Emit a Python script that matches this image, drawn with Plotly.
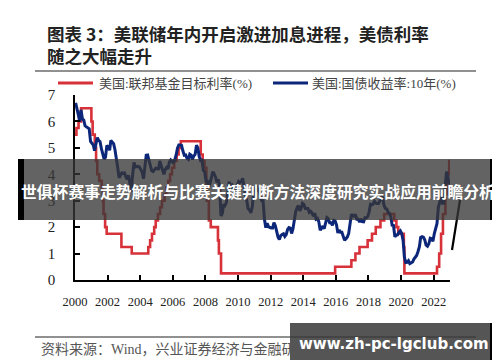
import datetime as dt
import plotly.graph_objects as go

# ---------------- data ----------------
fed_dates = [
    "2000-01-01", "2000-02-02", "2000-03-21", "2000-05-16",
    "2001-01-03", "2001-01-31", "2001-03-20", "2001-04-18", "2001-05-15", "2001-06-27",
    "2001-08-21", "2001-09-17", "2001-10-02", "2001-11-06", "2001-12-11",
    "2002-11-06", "2003-06-25",
    "2004-06-30", "2004-08-10", "2004-09-21", "2004-11-10", "2004-12-14",
    "2005-02-02", "2005-03-22", "2005-05-03", "2005-06-30", "2005-08-09", "2005-09-20",
    "2005-11-01", "2005-12-13",
    "2006-01-31", "2006-03-28", "2006-05-10", "2006-06-29",
    "2007-09-18", "2007-10-31", "2007-12-11",
    "2008-01-22", "2008-01-30", "2008-03-18", "2008-04-30", "2008-10-08", "2008-10-29",
    "2008-12-16",
    "2015-12-16", "2016-12-14",
    "2017-03-15", "2017-06-14", "2017-12-13",
    "2018-03-21", "2018-06-13", "2018-09-26", "2018-12-19",
    "2019-07-31", "2019-09-18", "2019-10-30",
    "2020-03-03", "2020-03-15",
    "2022-03-16", "2022-05-04", "2022-06-15", "2022-07-27", "2022-09-21", "2022-11-02",
    "2022-12-14", "2022-12-31",
]
fed_rate = [
    5.5, 5.75, 6.0, 6.5,
    6.0, 5.5, 5.0, 4.5, 4.0, 3.75,
    3.5, 3.0, 2.5, 2.0, 1.75,
    1.25, 1.0,
    1.25, 1.5, 1.75, 2.0, 2.25,
    2.5, 2.75, 3.0, 3.25, 3.5, 3.75,
    4.0, 4.25,
    4.5, 4.75, 5.0, 5.25,
    4.75, 4.5, 4.25,
    3.5, 3.0, 2.25, 2.0, 1.5, 1.0,
    0.25,
    0.5, 0.75,
    1.0, 1.25, 1.5,
    1.75, 2.0, 2.25, 2.5,
    2.25, 2.0, 1.75,
    1.25, 0.25,
    0.5, 1.0, 1.75, 2.5, 3.25, 4.0,
    4.5, 4.5,
]

years = list(range(2000, 2023))
ust10_by_year = [
    [6.70, 6.52, 6.26, 5.99, 6.44, 6.10, 6.05, 5.83, 5.80, 5.74, 5.72, 5.24],
    [5.16, 5.10, 4.89, 5.14, 5.39, 5.28, 5.24, 4.97, 4.73, 4.57, 4.65, 5.09],
    [5.04, 4.91, 5.28, 5.21, 5.16, 4.93, 4.65, 4.26, 3.87, 3.94, 4.05, 4.03],
    [4.05, 3.90, 3.81, 3.96, 3.57, 3.33, 3.98, 4.45, 4.27, 4.29, 4.30, 4.27],
    [4.15, 4.08, 3.83, 4.35, 4.72, 4.73, 4.50, 4.28, 4.13, 4.10, 4.19, 4.23],
    [4.22, 4.17, 4.50, 4.34, 4.14, 4.00, 4.18, 4.26, 4.20, 4.46, 4.54, 4.47],
    [4.42, 4.57, 4.72, 4.99, 5.11, 5.11, 5.09, 4.88, 4.72, 4.73, 4.60, 4.56],
    [4.76, 4.72, 4.56, 4.69, 4.75, 5.10, 5.00, 4.67, 4.52, 4.53, 4.15, 4.10],
    [3.74, 3.74, 3.51, 3.68, 3.88, 4.10, 4.01, 3.89, 3.69, 3.81, 3.53, 2.42],
    [2.52, 2.87, 2.82, 2.93, 3.29, 3.72, 3.56, 3.59, 3.40, 3.39, 3.40, 3.59],
    [3.73, 3.69, 3.73, 3.85, 3.42, 3.20, 3.01, 2.70, 2.65, 2.54, 2.76, 3.29],
    [3.39, 3.58, 3.41, 3.46, 3.17, 3.00, 3.00, 2.30, 1.98, 2.15, 2.01, 1.98],
    [1.97, 1.97, 2.17, 2.05, 1.80, 1.62, 1.53, 1.68, 1.72, 1.75, 1.65, 1.72],
    [1.91, 1.98, 1.96, 1.76, 1.93, 2.30, 2.58, 2.74, 2.81, 2.62, 2.72, 2.90],
    [2.86, 2.71, 2.72, 2.71, 2.56, 2.60, 2.54, 2.42, 2.53, 2.30, 2.33, 2.21],
    [1.88, 1.98, 2.04, 1.94, 2.20, 2.36, 2.32, 2.17, 2.17, 2.07, 2.26, 2.24],
    [2.09, 1.78, 1.89, 1.81, 1.81, 1.64, 1.50, 1.56, 1.63, 1.76, 2.14, 2.49],
    [2.43, 2.42, 2.48, 2.30, 2.30, 2.19, 2.32, 2.21, 2.20, 2.36, 2.35, 2.40],
    [2.58, 2.86, 2.84, 2.87, 2.98, 2.91, 2.89, 2.89, 3.00, 3.15, 3.12, 2.83],
    [2.71, 2.68, 2.57, 2.53, 2.40, 2.07, 2.06, 1.63, 1.70, 1.71, 1.81, 1.86],
    [1.76, 1.50, 0.87, 0.66, 0.67, 0.73, 0.62, 0.65, 0.68, 0.79, 0.87, 0.93],
    [1.08, 1.26, 1.61, 1.64, 1.62, 1.52, 1.32, 1.28, 1.37, 1.58, 1.56, 1.47],
    [1.76, 1.93, 2.13, 2.75, 2.90, 3.14, 2.90, 2.90, 3.52, 4.10, 3.89, 3.62],
]
ust_dates = [f"{y}-{m:02d}-15" for y in years for m in range(1, 13)]
ust10 = [v for row in ust10_by_year for v in row]

x_tick_years = list(range(2000, 2023, 2))
x_tick_text = [str(y) for y in x_tick_years]
y_tick_vals = [0, 1, 2, 3, 4, 5, 6, 7]

title_line1 = "图表 3：美联储年内开启激进加息进程，美债利率"
title_line2 = "随之大幅走升"
legend_red = "美国:联邦基金目标利率(%)"
legend_blue = "美国:国债收益率:10年(%)"
source_text = "资料来源：Wind，兴业证券经济与金融研究院整理"
banner_text = "世俱杯赛事走势解析与比赛关键判断方法深度研究实战应用前瞻分析"
watermark_text = "www.zh-pc-lgclub.com"


def to_year(s):
    d = dt.date.fromisoformat(s)
    start = dt.date(d.year, 1, 1)
    days = (dt.date(d.year + 1, 1, 1) - start).days
    return d.year + (d - start).days / days


# ---------------- layout helpers ----------------
W, H = 500, 362
L, R, T, B = 67, 442, 87, 272


def px(x):
    return (x - L) / (R - L)


def py(y):
    return (B - y) / (B - T)


CJK = "Noto Sans CJK SC"
SERIF = "Liberation Serif, Times New Roman, serif"
SERIF_CJK = "Liberation Serif, Noto Sans CJK SC"
RED = "#d7323a"
BLUE = "#0c2679"

fig = go.Figure()
fig.add_trace(go.Scatter(
    x=[to_year(s) for s in fed_dates], y=fed_rate, mode="lines", line_shape="hv",
    line=dict(color=RED, width=2.6), name=legend_red, showlegend=False,
))
fig.add_trace(go.Scatter(
    x=[to_year(s) for s in ust_dates], y=ust10, mode="lines",
    line=dict(color=BLUE, width=3), name=legend_blue, showlegend=False,
))

fig.update_layout(
    width=W, height=H,
    margin=dict(l=L, r=W - R, t=T, b=H - B),
    paper_bgcolor="white", plot_bgcolor="white",
    showlegend=False,
    xaxis=dict(
        range=[2000, 2023],
        tickmode="array", tickvals=x_tick_years, ticktext=x_tick_text, tickangle=0,
        tickfont=dict(family=SERIF, size=12.5, color="#222"),
        ticklabelstandoff=9,
        showgrid=False, zeroline=False,
        showline=True, linecolor="black", linewidth=1.5,
        ticks="inside", ticklen=5, tickcolor="black", tickwidth=1.5,
    ),
    yaxis=dict(
        range=[0, 7], tickmode="array", tickvals=y_tick_vals,
        tickfont=dict(family=SERIF, size=15, color="#222"),
        ticklabelstandoff=15,
        showgrid=False, zeroline=False,
        showline=True, linecolor="black", linewidth=1.5,
        ticks="inside", ticklen=5, tickcolor="black", tickwidth=1.5,
    ),
)

shapes = []
# legend samples
shapes.append(dict(type="line", xref="paper", yref="paper", x0=px(50), x1=px(85),
                   y0=py(75), y1=py(75), line=dict(color=RED, width=3)))
shapes.append(dict(type="line", xref="paper", yref="paper", x0=px(265), x1=px(300),
                   y0=py(75), y1=py(75), line=dict(color=BLUE, width=3)))
# rule lines
shapes.append(dict(type="line", xref="paper", yref="paper", x0=px(27), x1=px(468),
                   y0=py(63), y1=py(63), line=dict(color="#222", width=1.2)))
shapes.append(dict(type="line", xref="paper", yref="paper", x0=px(27), x1=px(468),
                   y0=py(329), y1=py(329), line=dict(color="#222", width=1.2)))
# stray black stroke
shapes.append(dict(type="line", xref="paper", yref="paper", x0=px(452), x1=px(444),
                   y0=py(192), y1=py(242), line=dict(color="black", width=2.2)))
# banner
shapes.append(dict(type="rect", xref="paper", yref="paper", x0=px(16), x1=px(482),
                   y0=py(212), y1=py(151), fillcolor="rgba(55,55,55,0.78)",
                   line=dict(width=0), layer="above"))
shapes.append(dict(type="rect", xref="paper", yref="paper", x0=px(10), x1=px(16),
                   y0=py(212), y1=py(151), fillcolor="black",
                   line=dict(width=0), layer="above"))
shapes.append(dict(type="rect", xref="paper", yref="paper", x0=px(482), x1=px(491),
                   y0=py(212), y1=py(151), fillcolor="black",
                   line=dict(width=0), layer="above"))
# watermark box
shapes.append(dict(type="rect", xref="paper", yref="paper", x0=px(282), x1=px(482),
                   y0=py(352), y1=py(315), fillcolor="rgba(55,55,55,0.85)",
                   line=dict(width=0), layer="above"))
shapes.append(dict(type="rect", xref="paper", yref="paper", x0=px(482), x1=px(491),
                   y0=py(352), y1=py(315), fillcolor="black",
                   line=dict(width=0), layer="above"))
fig.update_layout(shapes=shapes)

ann = []
ann.append(dict(text=f"<b>{title_line1}</b>", x=px(37), y=py(25), xref="paper", yref="paper",
                xanchor="left", yanchor="middle", showarrow=False,
                font=dict(family=CJK, size=17.5, color="#222")))
ann.append(dict(text=f"<b>{title_line2}</b>", x=px(37), y=py(47), xref="paper", yref="paper",
                xanchor="left", yanchor="middle", showarrow=False,
                font=dict(family=CJK, size=17.5, color="#222")))
ann.append(dict(text=legend_red, x=px(89), y=py(75), xref="paper", yref="paper",
                xanchor="left", yanchor="middle", showarrow=False,
                font=dict(family=SERIF_CJK, size=13, color="#444")))
ann.append(dict(text=legend_blue, x=px(302), y=py(75), xref="paper", yref="paper",
                xanchor="left", yanchor="middle", showarrow=False,
                font=dict(family=SERIF_CJK, size=13, color="#444")))
ann.append(dict(text=source_text, x=px(31), y=py(341), xref="paper", yref="paper",
                xanchor="left", yanchor="middle", showarrow=False,
                font=dict(family=SERIF_CJK, size=14, color="#555")))
ann.append(dict(text=f"<b>{banner_text}</b>", x=px(250), y=py(183), xref="paper", yref="paper",
                xanchor="center", yanchor="middle", showarrow=False,
                font=dict(family=CJK, size=15.8, color="white")))
ann.append(dict(text=f"<b>{watermark_text}</b>", x=px(386), y=py(336), xref="paper", yref="paper",
                xanchor="center", yanchor="middle", showarrow=False,
                font=dict(family="DejaVu Sans", size=15, color="white")))
fig.update_layout(annotations=ann)

fig.write_html("out.html")
